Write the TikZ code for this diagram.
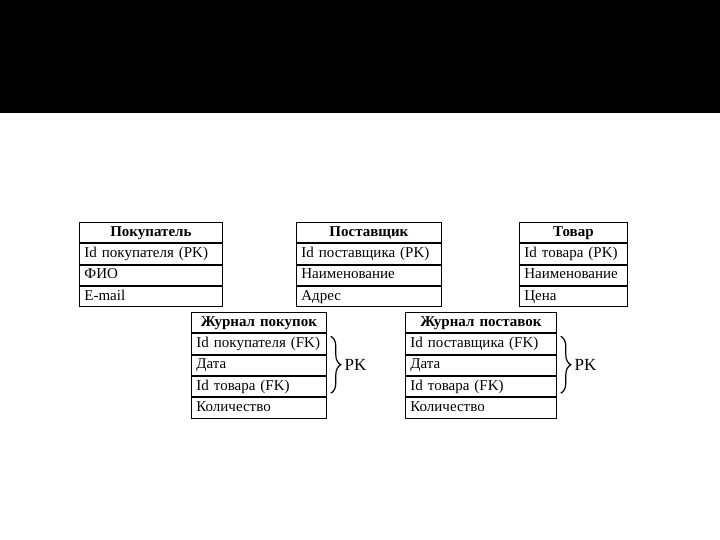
\documentclass[tikz,border=0pt]{standalone}
\usepackage{fontspec}
\setmainfont{Liberation Serif}
\usetikzlibrary{positioning,decorations.pathreplacing}

\begin{document}
\begin{tikzpicture}[
		x=1pt, y=1pt,
		node distance=0pt,
		cell/.style={draw, line width=0.8pt, minimum height=20.5pt, text height=10.5pt, text depth=3pt, text width=#1-10pt, inner xsep=5pt, inner ysep=0pt, align=left, font=\fontsize{15}{17}\selectfont, anchor=north west},
		head/.style={cell=#1, align=center, font=\fontsize{15}{17}\selectfont\bfseries},
		pkbrace/.style={draw, line width=1.2pt, decorate, decoration={brace, amplitude=10pt}},
		]
		\useasboundingbox (0,0) rectangle (720,540);
		\fill[black] (0,427) rectangle (720,540);
		% entities
		\node[head=143pt] (pok-h) at (79,318) {Покупатель};
		\node[cell=143pt] (pok-1) [below=of pok-h] {Id покупателя (PK)};
		\node[cell=143pt] (pok-2) [below=of pok-1] {ФИО};
		\node[cell=143pt] (pok-3) [below=of pok-2] {E-mail};
		\node[head=145pt] (pos-h) at (296,318) {Поставщик};
		\node[cell=145pt] (pos-1) [below=of pos-h] {Id поставщика (PK)};
		\node[cell=145pt] (pos-2) [below=of pos-1] {Наименование};
		\node[cell=145pt] (pos-3) [below=of pos-2] {Адрес};
		\node[head=108pt] (tov-h) at (519,318) {Товар};
		\node[cell=108pt] (tov-1) [below=of tov-h] {Id товара (PK)};
		\node[cell=108pt] (tov-2) [below=of tov-1] {Наименование};
		\node[cell=108pt] (tov-3) [below=of tov-2] {Цена};
		% journals
		\node[head=135pt] (jp-h) at (191,228) {Журнал покупок};
		\node[cell=135pt] (jp-1) [below=of jp-h] {Id покупателя (FK)};
		\node[cell=135pt] (jp-2) [below=of jp-1] {Дата};
		\node[cell=135pt] (jp-3) [below=of jp-2] {Id товара (FK)};
		\node[cell=135pt] (jp-4) [below=of jp-3] {Количество};
		\node[head=151pt] (js-h) at (405,228) {Журнал поставок};
		\node[cell=151pt] (js-1) [below=of js-h] {Id поставщика (FK)};
		\node[cell=151pt] (js-2) [below=of js-1] {Дата};
		\node[cell=151pt] (js-3) [below=of js-2] {Id товара (FK)};
		\node[cell=151pt] (js-4) [below=of js-3] {Количество};
		% keys
		\draw[pkbrace] ([xshift=4pt,yshift=-3pt]jp-1.north east) -- ([xshift=4pt,yshift=4pt]jp-3.south east)
			node[midway, right=10pt, font=\fontsize{17}{19}\selectfont] (jp-pk) {PK};
		\draw[pkbrace] ([xshift=4pt,yshift=-3pt]js-1.north east) -- ([xshift=4pt,yshift=4pt]js-3.south east)
			node[midway, right=10pt, font=\fontsize{17}{19}\selectfont] (js-pk) {PK};
	\end{tikzpicture}
\end{document}
